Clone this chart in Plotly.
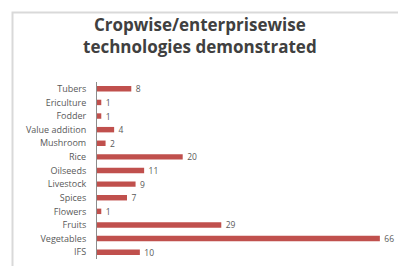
import plotly.graph_objects as go

categories = ["Tubers", "Ericulture", "Fodder", "Value addition", "Mushroom", "Rice",
              "Oilseeds", "Livestock", "Spices", "Flowers", "Fruits", "Vegetables", "IFS"]
values = [8, 1, 1, 4, 2, 20, 11, 9, 7, 1, 29, 66, 10]

# page has an 8px body margin; work in page pixels and convert
OFF = 8
W, H = 398, 258
L, R, T, B = 97 - OFF, 9, 82 - OFF, 7
pw, ph = W - L - R, H - T - B

def px_x(px):
    return (px - OFF - L) / pw

def px_y(py):
    return (H - B - (py - OFF)) / ph

fig = go.Figure(go.Bar(
    x=values, y=categories, orientation="h",
    marker=dict(color="#C0504D", line=dict(width=0)),
    texttemplate="\u00a0\u00a0%{x}", textposition="outside", constraintext="none",
    textfont=dict(size=8.5, color="#595959", family="Open Sans"),
    cliponaxis=False, width=0.4,
))

fig.update_layout(
    width=W, height=H,
    margin=dict(l=L, r=R, t=T, b=B, autoexpand=False),
    paper_bgcolor="white", plot_bgcolor="white",
    showlegend=False,
    xaxis=dict(range=[0, 70], visible=False, fixedrange=True, automargin=False),
    yaxis=dict(range=[12.5, -0.5], showline=True, linecolor="#8c8c8c", linewidth=1,
               ticks="", showgrid=False, ticklen=0, automargin=False,
               tickfont=dict(size=9, color="#595959", family="Open Sans"),
               ticklabelstandoff=8),
    shapes=[dict(type="rect", xref="paper", yref="paper",
                 x0=px_x(12.5), x1=px_x(430), y0=px_y(290), y1=px_y(12.5),
                 line=dict(color="#d9d9d9", width=2), layer="below")],
    annotations=[dict(text="<b>Cropwise/enterprisewise<br>technologies demonstrated</b>",
                      xref="paper", yref="paper", x=px_x(200), y=px_y(36),
                      xanchor="center", yanchor="middle", showarrow=False,
                      font=dict(size=17, color="#404040", family="Open Sans"))],
)

fig.write_html("out.html")
